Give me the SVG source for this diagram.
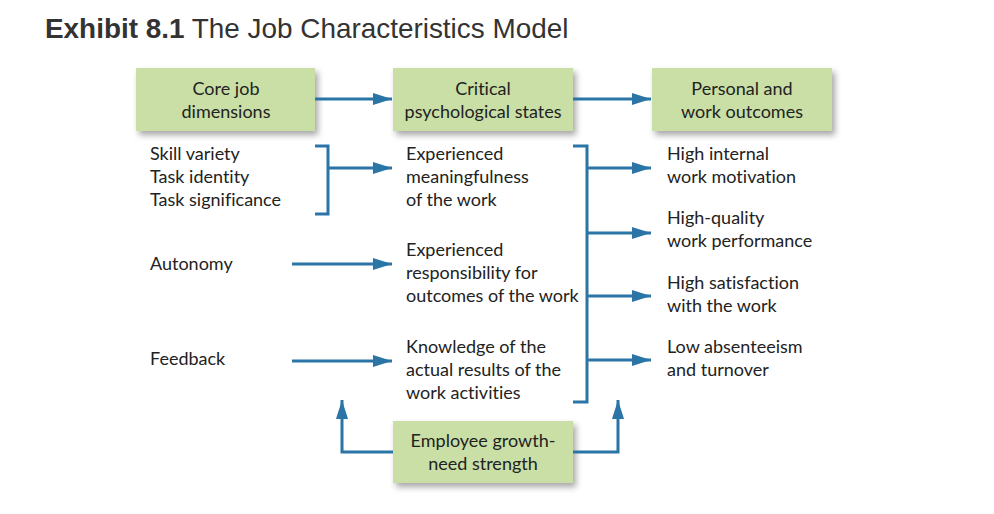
<svg xmlns="http://www.w3.org/2000/svg" width="994" height="514" viewBox="0 0 994 514">
<defs>
<filter id="sh" x="-10%" y="-20%" width="130%" height="150%">
<feDropShadow dx="3" dy="4" stdDeviation="3" flood-color="#000" flood-opacity="0.35"/>
</filter>
<marker id="ah" markerUnits="userSpaceOnUse" markerWidth="20" markerHeight="14" refX="19" refY="6" orient="auto">
<path d="M0,0 L19,6 L0,12 z" fill="#2b74a6"/>
</marker>
</defs>
<style>
.box{fill:#c9dfa6;filter:url(#sh)}
.t{font-family:Lato,"Open Sans",sans-serif;font-size:18px;fill:#222;font-variant-ligatures:none}
.c{text-anchor:middle}
.ln{fill:none;stroke:#2b74a6;stroke-width:3}
.ar{marker-end:url(#ah)}
.title{font-family:"Liberation Sans",Arial,sans-serif;font-size:27.9px;fill:#333}
</style>
<rect width="994" height="514" fill="#fff"/>
<text class="title" x="45" y="38"><tspan font-weight="bold">Exhibit 8.1</tspan> The Job Characteristics Model</text>

<g id="core">
<rect class="box" x="136" y="68" width="179" height="63"/>
<text class="t c" x="226" y="95">Core job</text>
<text class="t c" x="226" y="118">dimensions</text>
</g>
<g id="critical">
<rect class="box" x="393" y="68" width="180" height="63"/>
<text class="t c" x="483" y="95">Critical</text>
<text class="t c" x="483" y="118">psychological states</text>
</g>
<g id="outcomes">
<rect class="box" x="652" y="68" width="180" height="63"/>
<text class="t c" x="742" y="95">Personal and</text>
<text class="t c" x="742" y="118">work outcomes</text>
</g>
<g id="growth">
<rect class="box" x="393" y="421" width="180" height="62"/>
<text class="t c" x="483" y="447">Employee growth-</text>
<text class="t c" x="483" y="470">need strength</text>
</g>

<g id="dimensions">
<text class="t" x="150" y="160">Skill variety</text>
<text class="t" x="150" y="183">Task identity</text>
<text class="t" x="150" y="206">Task significance</text>
<text class="t" x="150" y="270">Autonomy</text>
<text class="t" x="150" y="365">Feedback</text>
</g>
<g id="states">
<text class="t" x="406" y="160">Experienced</text>
<text class="t" x="406" y="183">meaningfulness</text>
<text class="t" x="406" y="206">of the work</text>
<text class="t" x="406" y="256">Experienced</text>
<text class="t" x="406" y="279">responsibility for</text>
<text class="t" x="406" y="302">outcomes of the work</text>
<text class="t" x="406" y="353">Knowledge of the</text>
<text class="t" x="406" y="376">actual results of the</text>
<text class="t" x="406" y="399">work activities</text>
</g>
<g id="results">
<text class="t" x="667" y="160">High internal</text>
<text class="t" x="667" y="183">work motivation</text>
<text class="t" x="667" y="224">High-quality</text>
<text class="t" x="667" y="247">work performance</text>
<text class="t" x="667" y="289">High satisfaction</text>
<text class="t" x="667" y="312">with the work</text>
<text class="t" x="667" y="353">Low absenteeism</text>
<text class="t" x="667" y="376">and turnover</text>
</g>

<g id="connectors">
<path class="ln ar" d="M315,99 H392"/>
<path class="ln ar" d="M573,99 H651"/>
<path class="ln" d="M315,146 H328 V214 H315"/>
<path class="ln ar" d="M328,168 H392"/>
<path class="ln ar" d="M292,264 H392"/>
<path class="ln ar" d="M292,361 H392"/>
<path class="ln" d="M573,146 H587 V402 H573"/>
<path class="ln ar" d="M587,168 H651"/>
<path class="ln ar" d="M587,233 H651"/>
<path class="ln ar" d="M587,296 H651"/>
<path class="ln ar" d="M587,360 H651"/>
<path class="ln ar" d="M393,452 H342 V400"/>
<path class="ln ar" d="M573,452 H618 V400"/>
</g>
</svg>
